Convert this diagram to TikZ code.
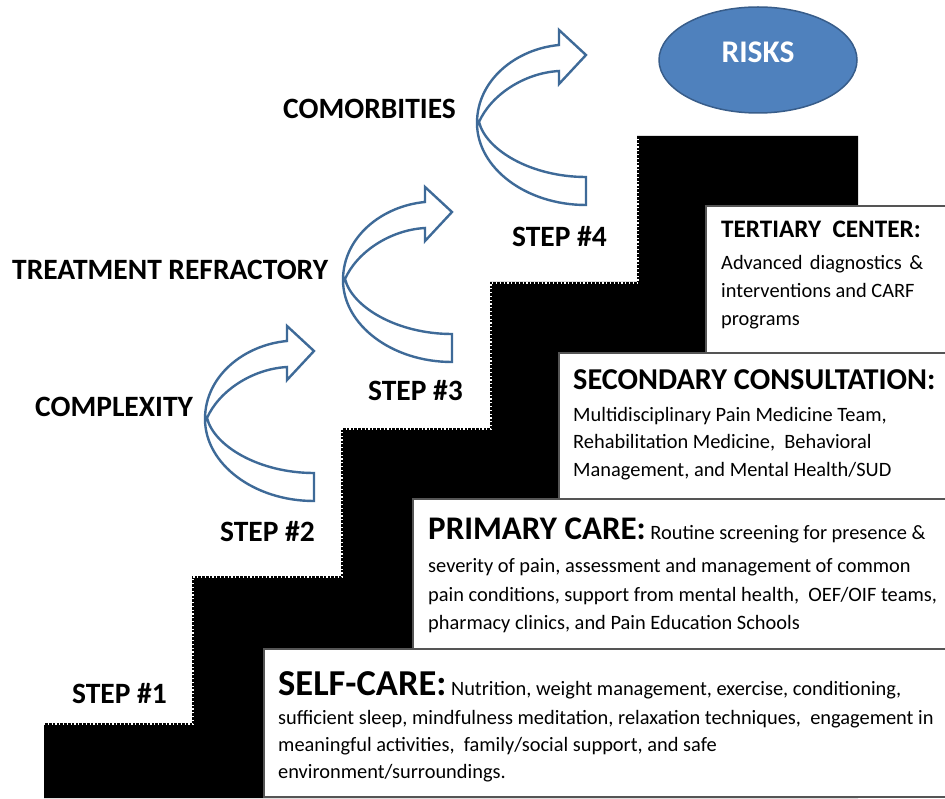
\documentclass[tikz,border=0pt]{standalone}
\usepackage{fontspec}
\setmainfont{Carlito}
\usetikzlibrary{shapes.geometric}

\definecolor{arrowblue}{RGB}{62,106,152}
\definecolor{riskfill}{RGB}{79,129,189}
\definecolor{riskline}{RGB}{56,93,138}
\definecolor{boxline}{RGB}{85,85,85}

\newcommand{\setfs}[1]{\fontsize{#1}{#1}\selectfont}

\tikzset{
  steplabel/.style={anchor=base west, inner sep=0pt, font=\bfseries\setfs{29.5}},
  headtext/.style={anchor=base west, inner sep=0pt},
  bodytext/.style={anchor=base west, inner sep=0pt, font=\setfs{20.4}},
  infobox/.style={fill=white, draw=boxline, line width=1.2pt},
  serration/.style={white, line width=1.3pt, dash pattern=on 1.2pt off 2.6pt},
  curvearrow/.style={draw=arrowblue, fill=white, line width=2.4pt, line join=miter},
  riskshape/.style={ellipse, draw=riskline, fill=riskfill, line width=1.5pt,
    minimum width=198pt, minimum height=106pt, inner sep=0pt},
  pics/bentarrow/.style={code={
    \draw[curvearrow] (0,0) -- (-27,29) -- (-27,16)
      .. controls (-62,18) and (-95,40) .. (-107,67)
      .. controls (-100,95) and (-55,122) .. (0,122)
      -- (0,150)
      .. controls (-60,150) and (-109,113) .. (-109,68)
      .. controls (-109,25) and (-70,-6) .. (-27,-10)
      -- (-27,-25) -- cycle;
  }}
}

\begin{document}
\begin{tikzpicture}[x=1pt,y=-1pt]
\useasboundingbox (0,0) rectangle (945,799);
\fill[white] (0,0) rectangle (945,799);

% black staircase
\fill[black] (44,798) -- (44,723) -- (192,723) -- (192,576) -- (341,576)
  -- (341,428) -- (490,428) -- (490,282) -- (637,282) -- (637,136)
  -- (858,136) -- (858,798) -- cycle;
\draw[serration] (44,724) -- (193,724) -- (193,577) -- (342,577) -- (342,429)
  -- (491,429) -- (491,283) -- (638,283) -- (638,137);

% level boxes
\draw[infobox] (706,206) rectangle (950,353);
\draw[infobox] (559,353) rectangle (950,499);
\draw[infobox] (413,499) rectangle (950,649);
\draw[infobox] (264,649) rectangle (950,797);

% tertiary center
\node[headtext, font=\bfseries\setfs{25.2}] (tertH) at (721,238) {TERTIARY\ \ CENTER:};
\node[bodytext] (tert1) at (721,270) {\makebox[202pt][s]{Advanced diagnostics \&}};
\node[bodytext] (tert2) at (721,298) {interventions and CARF};
\node[bodytext] (tert3) at (721,326) {programs};

% secondary consultation
\node[headtext, font=\bfseries\setfs{30.3}] (secH) at (573,390) {SECONDARY CONSULTATION:};
\node[bodytext] (sec1) at (573,421) {Multidisciplinary Pain Medicine Team,};
\node[bodytext] (sec2) at (573,448) {Rehabilitation Medicine,\ \ Behavioral};
\node[bodytext] (sec3) at (573,476) {Management, and Mental Health/SUD};

% primary care
\node[bodytext] (prim1) at (428,539) {{\bfseries\setfs{33}PRIMARY CARE:} Routine screening for presence \&};
\node[bodytext] (prim2) at (428,572) {severity of pain, assessment and management of common};
\node[bodytext] (prim3) at (428,601) {pain conditions, support from mental health,\ \ OEF/OIF teams,};
\node[bodytext] (prim4) at (428,629) {pharmacy clinics, and Pain Education Schools};

% self-care
\node[bodytext] (self1) at (278,695) {{\bfseries\setfs{36.5}SELF-CARE:} Nutrition, weight management, exercise, conditioning,};
\node[bodytext] (self2) at (278,724) {sufficient sleep, mindfulness meditation, relaxation techniques,\ \ engagement in};
\node[bodytext] (self3) at (278,751) {meaningful activities,\ \ family/social support, and safe};
\node[bodytext] (self4) at (278,778) {environment/surroundings.};

% step labels and escalation labels
\node[steplabel] (step1) at (72,703) {STEP \#1};
\node[steplabel] (step2) at (220,541) {STEP \#2};
\node[steplabel] (step3) at (368,400) {STEP \#3};
\node[steplabel] (step4) at (512,247) {STEP \#4};
\node[steplabel] (complex) at (35,417) {COMPLEXITY};
\node[steplabel] (refract) at (12,280) {TREATMENT REFRACTORY};
\node[steplabel] (comorb) at (283,118.5) {COMORBITIES};

% curved escalation arrows
\pic at (314,351) {bentarrow};
\pic at (452,212) {bentarrow};
\pic at (586,55) {bentarrow};

% risks
\node[riskshape] (risks) at (758,60) {};
\node[inner sep=0pt, font=\bfseries\setfs{31.5}, text=white] (risktext) at (758,52) {RISKS};
\end{tikzpicture}
\end{document}
